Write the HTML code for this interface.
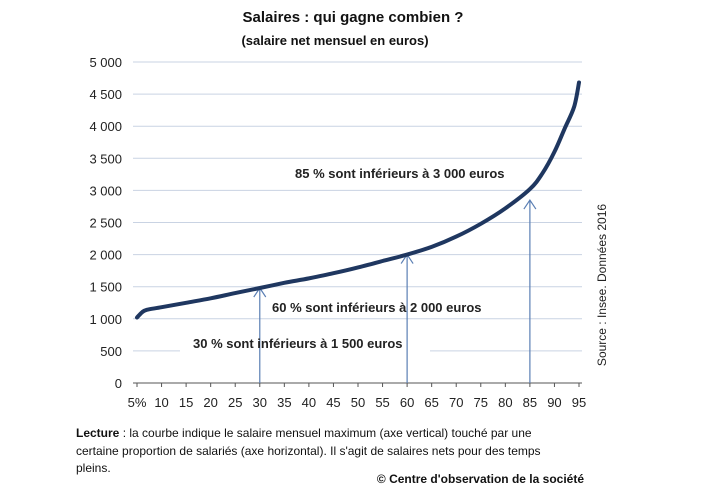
<!DOCTYPE html>
<html><head><meta charset="utf-8"><style>
body{margin:0;background:#fff;}
svg text{font-family:"Liberation Sans",sans-serif;}
</style></head><body>
<svg width="706" height="497" viewBox="0 0 706 497">
<text x="353" y="22" text-anchor="middle" font-size="15" font-weight="bold" fill="#111">Salaires : qui gagne combien ?</text>
<text x="335" y="45" text-anchor="middle" font-size="13" font-weight="bold" fill="#111">(salaire net mensuel en euros)</text>
<g id="grid"></g><g id="yt"></g><g id="xt"></g><g id="ann"></g>
<path id="curve" fill="none" stroke="#1f3760" stroke-width="4" stroke-linejoin="round" stroke-linecap="round"/>
<text transform="translate(606,285) rotate(-90)" text-anchor="middle" font-size="12" fill="#222">Source : Insee. Données 2016</text>
<text x="76" y="437" font-size="12" fill="#111"><tspan font-weight="bold">Lecture</tspan> : la courbe indique le salaire mensuel maximum (axe vertical) touché par une</text>
<text x="76" y="455" font-size="12" fill="#111">certaine proportion de salariés (axe horizontal). Il s'agit de salaires nets pour des temps</text>
<text x="76" y="472" font-size="12" fill="#111">pleins.</text>
<text x="584" y="483" text-anchor="end" font-size="12" font-weight="bold" fill="#111">© Centre d'observation de la  société</text>
</svg>
<script>
const pct=[5,6,7,10,15,20,25,30,35,40,45,50,55,60,65,70,75,80,85,87.5,90,92,94,95];
const sal=[1020,1100,1140,1180,1250,1320,1400,1480,1560,1630,1710,1800,1900,2000,2120,2280,2480,2720,3020,3260,3600,3950,4300,4680];
const yTicks=[0,500,1000,1500,2000,2500,3000,3500,4000,4500,5000];
const yLabels=["0","500","1 000","1 500","2 000","2 500","3 000","3 500","4 000","4 500","5 000"];
const xTicks=[5,10,15,20,25,30,35,40,45,50,55,60,65,70,75,80,85,90,95];
const xLabels=["5%","10","15","20","25","30","35","40","45","50","55","60","65","70","75","80","85","90","95"];
const arrowX=[30,60,85];
const arrowY=[1480,2000,2850];
const NS="http://www.w3.org/2000/svg";
const X=v=>137+(v-5)*(579-137)/90;
const Y=v=>383-v*(383-62)/5000;
function mk(t,a,p){const e=document.createElementNS(NS,t);for(const k in a)e.setAttribute(k,a[k]);document.getElementById(p).appendChild(e);return e;}
yTicks.forEach((v,i)=>{
 if(v>0){const g=mk('line',{x1:133,x2:582,y1:Y(v),y2:Y(v),stroke:'#c9d3e3','stroke-width':1},'grid');
 
 }
 const t=mk('text',{x:122,y:Y(v)+5,'text-anchor':'end','font-size':13,fill:'#222'},'yt');t.textContent=yLabels[i];
 
 
});
const ax=mk('line',{x1:133,x2:582,y1:383,y2:383,stroke:'#555','stroke-width':1},'xt');


xTicks.forEach((v,i)=>{
 mk('line',{x1:X(v),x2:X(v),y1:383,y2:387,stroke:'#555'},'xt');
 const t=mk('text',{x:X(v),y:407,'text-anchor':'middle','font-size':13,fill:'#222'},'xt');t.textContent=xLabels[i];
 
 
});
mk('rect',{x:180,y:Y(500)-12,width:250,height:24,fill:'#fff'},'ann');
arrowX.forEach((v,i)=>{
 const x=X(v),y=Y(arrowY[i]);
 const l=mk('path',{d:`M${x},383 L${x},${y} M${x-6},${y+9} L${x},${y} L${x+6},${y+9}`,stroke:'#5b7fb4','stroke-width':1.2,fill:'none'},'ann');
 
 
});
[["85 % sont inférieurs à 3 000 euros",295,178],["60 % sont inférieurs à  2 000 euros",272,312],["30 % sont inférieurs à 1 500 euros",193,348]].forEach(a=>{
 const t=mk('text',{x:a[1],y:a[2],'font-size':13,'font-weight':'bold',fill:'#222'},'ann');t.textContent=a[0];
 
 
});
const P=pct.map((p,i)=>[X(p),Y(sal[i])]);
let d='M'+P[0][0].toFixed(1)+','+P[0][1].toFixed(1);
for(let i=0;i<P.length-1;i++){
 const p0=P[Math.max(0,i-1)],p1=P[i],p2=P[i+1],p3=P[Math.min(P.length-1,i+2)];
 const c1=[p1[0]+(p2[0]-p0[0])/6,p1[1]+(p2[1]-p0[1])/6];
 const c2=[p2[0]-(p3[0]-p1[0])/6,p2[1]-(p3[1]-p1[1])/6];
 d+=` C${c1[0].toFixed(1)},${c1[1].toFixed(1)} ${c2[0].toFixed(1)},${c2[1].toFixed(1)} ${p2[0].toFixed(1)},${p2[1].toFixed(1)}`;
}
document.getElementById('curve').setAttribute('d',d);
</script>
</body></html>
